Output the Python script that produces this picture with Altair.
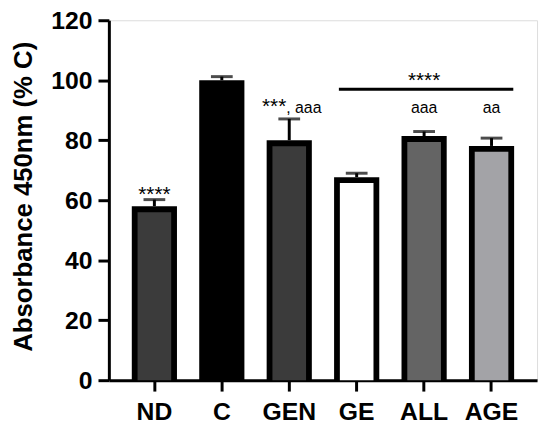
import altair as alt
import pandas as pd

groups = ["ND", "C", "GEN", "GE", "ALL", "AGE"]
means = [58.0, 100.0, 80.0, 67.7, 81.4, 78.1]
err_top = [60.2, 101.2, 87.1, 69.0, 82.9, 80.7]
fills = ["#3b3b3b", "#000000", "#3b3b3b", "#ffffff", "#646464", "#a3a3a7"]

ann_group = ["ND", "GEN", "GEN", "ALL", "AGE", "ALL"]
ann_text = ["****", "***", ", aaa", "aaa", "aa", "****"]
ann_y = [59.8, 89.0, 89.0, 89.0, 89.0, 97.8]
ann_kind = ["star", "star_r", "a_l", "a", "a", "star"]

line_start = ["GE"]
line_end = ["AGE"]
line_y = [97.0]

df = pd.DataFrame({"group": groups, "mean": means, "top": err_top})
ann = pd.DataFrame({"group": ann_group, "text": ann_text, "y": ann_y, "kind": ann_kind})
ln = pd.DataFrame({"start": line_start, "end": line_end, "y": line_y})

FONT = "Liberation Sans"

xscale = alt.Scale(domain=groups, paddingInner=0.33, paddingOuter=0.34)
yscale = alt.Scale(domain=[0, 120])

x = alt.X("group:N", scale=xscale, sort=groups,
          axis=alt.Axis(title=None, labelAngle=0, labelFont=FONT, labelFontSize=25,
                        labelFontWeight="bold", labelColor="black", labelPadding=9,
                        tickSize=11, tickWidth=3, tickColor="black",
                        domainWidth=3, domainColor="black"))
y = alt.Y("mean:Q", scale=yscale,
          axis=alt.Axis(title="Absorbance 450nm (% C)", values=[0, 20, 40, 60, 80, 100, 120],
                        grid=False, labelFont=FONT, labelFontSize=25, labelFontWeight="bold",
                        labelColor="black", labelPadding=6, tickSize=11, tickWidth=3,
                        tickColor="black", domainWidth=3, domainColor="black",
                        titleFont=FONT, titleFontSize=26, titleFontWeight="bold",
                        titleColor="black", titleX=-73, titleY=178))

base = alt.Chart(df)

outer = base.mark_bar(color="black").encode(x=x, y=y, y2=alt.datum(0))
inner = base.mark_bar(size=34, yOffset=6, y2Offset=0).encode(
    x=x, y=y, y2=alt.datum(0),
    color=alt.Color("group:N", scale=alt.Scale(domain=groups, range=fills), legend=None))
rules = base.mark_rule(color="black", strokeWidth=3).encode(
    x=alt.X("group:N", scale=xscale, sort=groups), y="mean:Q", y2="top:Q")
caps = base.mark_tick(color="black", orient="horizontal", size=22, thickness=3).encode(
    x=alt.X("group:N", scale=xscale, sort=groups), y=alt.Y("top:Q"))

sig_line = alt.Chart(ln).mark_rule(color="black", strokeWidth=3, xOffset=-18, x2Offset=22).encode(
    x=alt.X("start:N", scale=xscale), x2="end:N", y=alt.Y("y:Q"))

def ann_layer(kind, size, align, dx):
    return alt.Chart(ann).transform_filter(alt.datum.kind == kind).mark_text(
        font=FONT, fontSize=size, align=align, dx=dx, baseline="alphabetic", color="black"
    ).encode(x=alt.X("group:N", scale=xscale), y=alt.Y("y:Q"), text="text:N")

texts = (ann_layer("star", 21, "center", 0) + ann_layer("star_r", 21, "right", -3)
         + ann_layer("a_l", 16, "left", -3) + ann_layer("a", 16, "center", 0))

chart = alt.layer(outer, inner, rules, caps, sig_line, texts).properties(
    width=433, height=364, autosize="none",
    padding={"left": 102, "top": 10, "right": 5, "bottom": 50}
).configure_view(stroke=None).configure(background="white")

chart.save("out.html", embed_options={"renderer": "svg", "actions": False})
